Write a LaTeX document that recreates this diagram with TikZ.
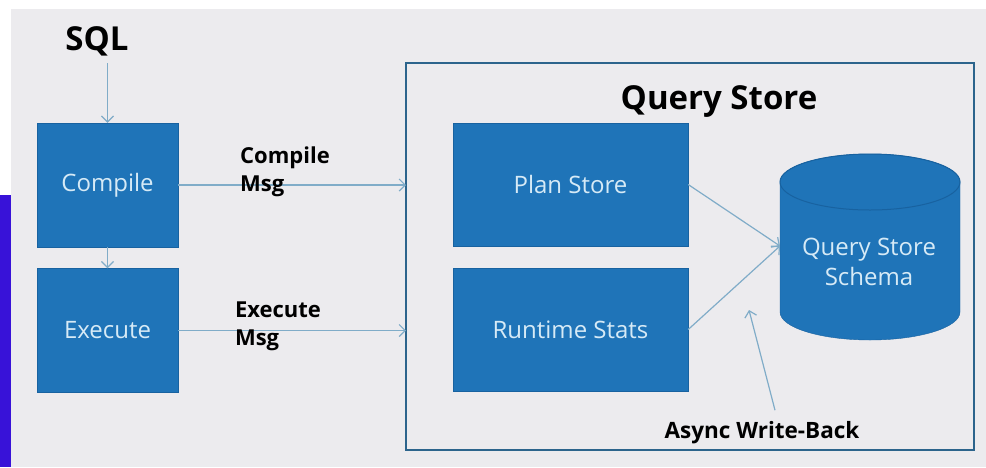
\documentclass[tikz,border=0pt]{standalone}
\usepackage{fontspec}
\setmainfont{Open Sans}
\usepackage{tikz}
\usetikzlibrary{arrows.meta}

\definecolor{qsblue}{RGB}{31,116,184}
\definecolor{qsedge}{RGB}{24,98,160}
\definecolor{qstext}{RGB}{214,234,246}
\definecolor{qsline}{RGB}{128,172,200}
\definecolor{qsframe}{RGB}{44,100,140}
\definecolor{qsback}{RGB}{236,235,238}
\definecolor{qsbar}{RGB}{56,18,216}

\tikzset{
  bluebox/.style={draw=qsedge,fill=qsblue,text=qstext,minimum width=141pt,
    minimum height=124pt,inner sep=0pt,font=\fontsize{24}{30}\selectfont},
  storebox/.style={bluebox,minimum width=235pt,minimum height=123pt},
  msglabel/.style={font=\fontsize{22}{28}\selectfont\bfseries,align=left,inner sep=0pt},
  flow/.style={draw=qsline,line width=1.2pt,-{Straight Barb[length=6pt,width=12pt]}}
}

\begin{document}
\begin{tikzpicture}[x=1pt,y=-1pt]
    \useasboundingbox (0,0) rectangle (986,467);
    \fill[white] (0,0) rectangle (986,467);
    \fill[qsback] (11,9) rectangle (986,467);
    \fill[qsbar] (0,195) rectangle (11,467);

    % query store frame
    \draw[qsframe,line width=2.2pt] (406,63) rectangle (974,450);
    \node[font=\fontsize{33}{38}\selectfont\bfseries] (title) at (719,101) {Query Store};

    % left column
    \node[font=\fontsize{33}{38}\selectfont\bfseries] (sql) at (97,41) {SQL};
    \node[bluebox] (compile) at (107.5,185) {Compile};
    \node[bluebox] (execute) at (107.5,330.5) {Execute};

    \draw[flow] (sql.south -| compile.north) ++(0,4) -- (compile.north);
    \draw[flow] (compile) -- (execute);

    % inner stores
    \node[storebox] (plan) at (570.5,184.5) {Plan Store};
    \node[storebox] (runtime) at (570.5,329.5) {Runtime Stats};

    % schema cylinder
    \fill[qsblue,draw=qsedge] (780,182) -- (780,312)
        arc[start angle=180,end angle=0,x radius=90,y radius=28]
        -- (960,182)
        arc[start angle=0,end angle=-180,x radius=90,y radius=28] -- cycle;
    \draw[qsedge,line width=1pt] (870,182) ellipse[x radius=90,y radius=28];
    \node[text=qstext,align=center,font=\fontsize{24}{30}\selectfont] (schema) at (869,262) {Query Store\\Schema};
    \coordinate (dbin) at (780,246);

    % messages
    \draw[flow] (compile.east) -- (compile.east -| 406,0);
    \draw[flow] (execute.east) -- (execute.east -| 406,0);
    \node[msglabel] (cmsg) at (285,172) {Compile\\Msg};
    \node[msglabel] (emsg) at (278,326) {Execute\\Msg};

    \draw[flow] (plan.east) -- (dbin);
    \draw[flow] (runtime.east) -- (dbin);

    \node[font=\fontsize{22.5}{26}\selectfont\bfseries] (async) at (762,433) {Async Write-Back};
    \coordinate (wb) at (749,310);
    \draw[flow] (async.north) ++(13,-8) -- (wb);
\end{tikzpicture}
\end{document}
